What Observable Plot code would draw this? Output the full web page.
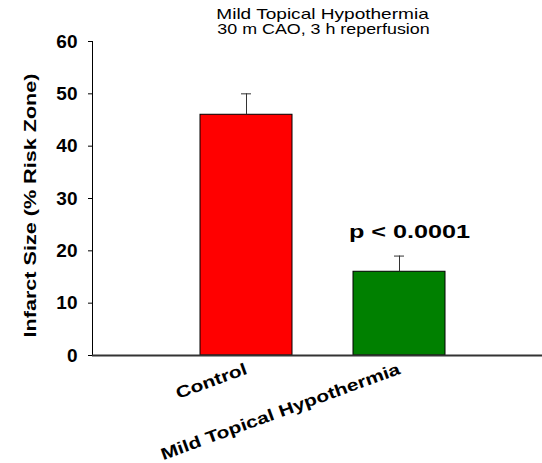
<!DOCTYPE html>
<html><head><meta charset="utf-8">
<script src="https://cdn.jsdelivr.net/npm/d3@7"></script>
<script src="https://cdn.jsdelivr.net/npm/@observablehq/plot@0.6"></script>
<style>body{margin:0;background:#fff}</style>
</head><body><div id="chart"></div>
<script>
const groups = ["Control", "Mild Topical Hypothermia"];
const infarct = [46, 16];
const errorUp = [4, 3];
const barColors = ["#ff0000", "#008000"];
const yTicks = [0, 10, 20, 30, 40, 50, 60];
const titleLines = ["Mild Topical Hypothermia", "30 m CAO, 3 h reperfusion"];
const pLabel = "p < 0.0001";
const yLabel = "Infarct Size (% Risk Zone)";

const data = groups.map((g, i) => ({group: g, value: infarct[i], upper: infarct[i] + errorUp[i]}));

const stretch = new Map([
  [titleLines[0], 1.15], [titleLines[1], 1.19], [pLabel, 1.4],
  [yLabel, 1.27], [groups[0], 1.27], [groups[1], 1.27]
]);

const svg = Plot.plot({
  width: 542, height: 463,
  marginLeft: 92, marginRight: 0, marginTop: 41, marginBottom: 108,
  style: {fontFamily: "'Liberation Sans', Arial, sans-serif", background: "#fff", color: "#000"},
  x: {domain: groups, paddingInner: 0.4, paddingOuter: 0.666, align: 0.528, axis: null},
  y: {domain: [0, 60], axis: null},
  color: {domain: groups, range: barColors},
  marks: [
    Plot.barY(data, {x: "group", y: "value", fill: "group", stroke: "#000", strokeWidth: 1}),
    Plot.ruleX(data, {x: "group", y1: "value", y2: "upper", stroke: "#333", strokeWidth: 1}),
    Plot.tickY(data, {x: "group", y: "upper", stroke: "#333", strokeWidth: 1, insetLeft: 41, insetRight: 41}),
    Plot.frame({anchor: "left", stroke: "#000"}),
    Plot.ruleY([0], {stroke: "#333", strokeWidth: 2}),
    Plot.axisY({ticks: yTicks, tickSize: 4, tickPadding: 11, fontSize: 19, fontWeight: "bold", label: null}),
    Plot.axisX({tickSize: 0, tickPadding: 13, tickRotate: -20, textAnchor: "end", lineAnchor: "middle", fontSize: 16.5, fontWeight: "bold", label: null}),
    Plot.text([yLabel], {frameAnchor: "left", textAnchor: "middle", rotate: -90, dx: -62, dy: 7, fontSize: 17, fontWeight: "bold"}),
    Plot.text([titleLines[0]], {frameAnchor: "top", dx: 5, dy: -27, lineAnchor: "middle", fontSize: 15}),
    Plot.text([titleLines[1]], {frameAnchor: "top", dx: 6, dy: -12, lineAnchor: "middle", fontSize: 15}),
    Plot.text([data[1]], {x: "group", y: "upper", text: () => pLabel, dx: 10, dy: -24, lineAnchor: "middle", fontSize: 18, fontWeight: "bold"})
  ]
});
document.getElementById("chart").appendChild(svg);

d3.select(svg).selectAll("text").each(function() {
  const f = stretch.get(this.textContent);
  if (f) {
    const L = this.getComputedTextLength();
    this.setAttribute("textLength", L * f);
    this.setAttribute("lengthAdjust", "spacingAndGlyphs");
  }
});
</script>
</body></html>
